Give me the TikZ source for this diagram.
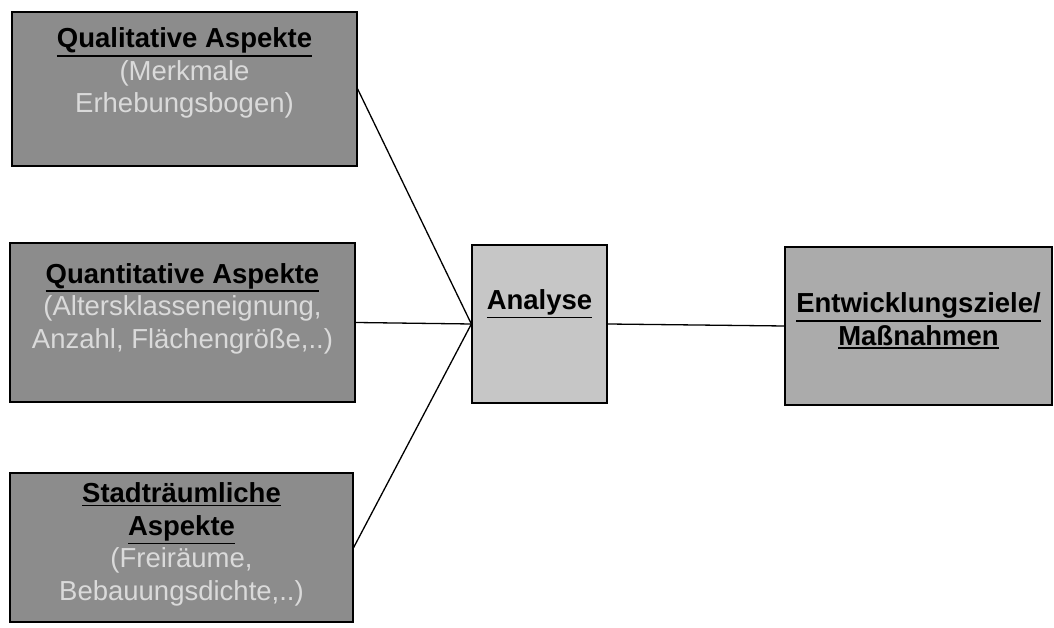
\documentclass[tikz,border=0pt]{standalone}
\usepackage{fontspec}
\setmainfont{Liberation Sans}
\definecolor{darkbox}{HTML}{8C8C8C}
\definecolor{midbox}{HTML}{ABABAB}
\definecolor{lightbox}{HTML}{C6C6C6}
\definecolor{subtext}{HTML}{DADADA}
\newcommand{\ult}[1]{\vtop{\hbox{\textbf{#1}}\kern1.5pt\hrule height 1.8pt}}
\begin{document}
\begin{tikzpicture}[x=1pt,y=1pt,
  box/.style={draw=black, line width=1.3pt, rectangle, inner sep=0pt},
  txt/.style={align=center, font=\fontsize{27.5}{32.5}\selectfont, text=black},
  link/.style={draw=black, line width=1.3pt}]
\useasboundingbox (0,0) rectangle (1054,628);
\node[box, fill=darkbox, minimum width=345, minimum height=154,
  label={[txt, yshift=16]center:{\ult{Qualitative Aspekte}\\\textcolor{subtext}{(Merkmale}\\\textcolor{subtext}{Erhebungsbogen)}}}]
  (qual) at (184.5,539) {};
\node[box, fill=darkbox, minimum width=345, minimum height=159,
  label={[txt, yshift=14]center:{\ult{Quantitative Aspekte}\\\textcolor{subtext}{(Altersklasseneignung,}\\\textcolor{subtext}{Anzahl, Flächengröße,..)}}}]
  (quant) at (182.5,305.5) {};
\node[box, fill=darkbox, minimum width=343, minimum height=149,
  label={[txt, yshift=3]center:{\ult{Stadträumliche}\\\ult{Aspekte}\\\textcolor{subtext}{(Freiräume,}\\\textcolor{subtext}{Bebauungsdichte,..)}}}]
  (stadt) at (181.5,80.5) {};
\node[box, fill=lightbox, minimum width=135, minimum height=158,
  label={[txt, yshift=20]center:{\ult{Analyse}}}]
  (ana) at (539.5,304) {};
\node[box, fill=midbox, minimum width=267, minimum height=158,
  label={[txt, yshift=5]center:{\ult{Entwicklungsziele/}\\\ult{Maßnahmen}}}]
  (ziel) at (918.5,302) {};
\draw[link] (qual.east) -- (ana.west);
\draw[link] (quant.east) -- (ana.west);
\draw[link] (stadt.east) -- (ana.west);
\draw[link] (ana.east) -- (ziel.west);
\end{tikzpicture}
\end{document}
